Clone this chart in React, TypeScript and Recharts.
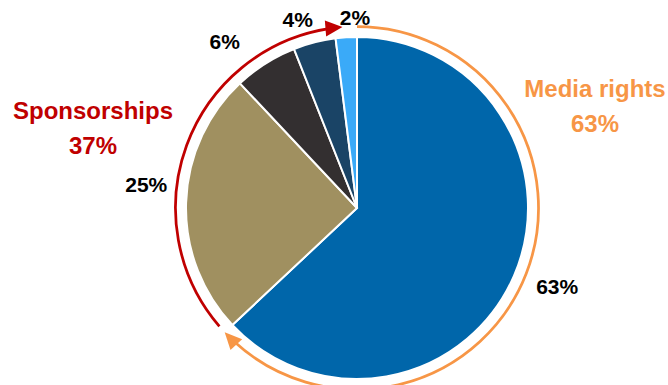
import React from 'react';
import { PieChart, Pie, Cell } from 'recharts';

const categories = ['Media rights', 'Sponsorship A', 'Sponsorship B', 'Sponsorship C', 'Sponsorship D'];
const shares = [63, 25, 6, 4, 2];
const sliceColors = ['#0066AA', '#A09060', '#332F30', '#1A4466', '#3AAAF8'];

const groupNames = ['Media rights', 'Sponsorships'];
const groupShares = [63, 37];
const groupColors = ['#F79646', '#C00000'];

const sliceData = categories.map((name, i) => ({ name, value: shares[i] }));
const groupData = groupNames.map((name, i) => ({ name, value: groupShares[i] }));

// label tweaks (distance beyond the rim, angle nudge in degrees)
const labelDist = [44, 41, 42, 27, 20];
const labelNudge = [2, -4.5, 6, 3, -3];
// trimming of the outer arcs (degrees at start / end)
const arcTrim = [[0, 0], [2.5, 4.6]];

const RAD = Math.PI / 180;
const CX = 357;
const CY = 208;
const R = 171;
const ARC_R = 181.5;

const SliceLabel = (props: any) => {
  const { cx, cy, midAngle, outerRadius, index } = props;
  const a = (midAngle + labelNudge[index]) * RAD;
  const r = outerRadius + labelDist[index];
  const x = cx + r * Math.cos(-a);
  const y = cy + r * Math.sin(-a);
  return (
    <text x={x} y={y} textAnchor="middle" dominantBaseline="central"
      fontFamily="Liberation Sans, Arial, sans-serif" fontWeight="bold" fontSize={21} fill="#000">
      {`${shares[index]}%`}
    </text>
  );
};

const GroupArc = (props: any) => {
  const { cx, cy, startAngle, endAngle, index } = props;
  const color = groupColors[index];
  const s = startAngle - arcTrim[index][0];
  const e = endAngle + arcTrim[index][1];
  const pt = (deg: number, r: number) => [cx + r * Math.cos(-deg * RAD), cy + r * Math.sin(-deg * RAD)];
  const headLen = 17;
  const headHalf = 8;
  const lineEnd = e + (headLen / ARC_R) / RAD * 0.8;
  const [x0, y0] = pt(s, ARC_R);
  const [x1, y1] = pt(lineEnd, ARC_R);
  const large = Math.abs(s - lineEnd) > 180 ? 1 : 0;
  const [tx, ty] = pt(e, ARC_R);
  // clockwise tangent direction at end
  const dx = Math.sin(e * RAD);
  const dy = Math.cos(e * RAD);
  const bx = tx - dx * headLen;
  const by = ty - dy * headLen;
  const px = -dy;
  const py = dx;
  return (
    <g>
      <path d={`M${x0},${y0} A${ARC_R},${ARC_R} 0 ${large} 1 ${x1},${y1}`} fill="none" stroke={color} strokeWidth={2.75} />
      <polygon points={`${tx},${ty} ${bx + px * headHalf},${by + py * headHalf} ${bx - px * headHalf},${by - py * headHalf}`} fill={color} />
    </g>
  );
};

const titleStyle = { fontFamily: 'Liberation Sans, Arial, sans-serif', fontWeight: 'bold' as const, fontSize: 24 };

export default function App() {
  return (
    <div style={{ position: 'absolute', left: 0, top: 0, width: 668, height: 385, background: '#fff' }}>
      <PieChart width={668} height={385} margin={{ top: 0, right: 0, bottom: 0, left: 0 }}>
        <Pie
          data={groupData}
          dataKey="value"
          cx={CX}
          cy={CY}
          innerRadius={ARC_R}
          outerRadius={ARC_R}
          startAngle={90}
          endAngle={-270}
          stroke="none"
          fill="none"
          label={GroupArc}
          labelLine={false}
          isAnimationActive={false}
        />
        <Pie
          data={sliceData}
          dataKey="value"
          cx={CX}
          cy={CY}
          outerRadius={R}
          startAngle={90}
          endAngle={-270}
          stroke="#fff"
          strokeWidth={2}
          label={SliceLabel}
          labelLine={false}
          isAnimationActive={false}
        >
          {sliceData.map((d, i) => (
            <Cell key={d.name} fill={sliceColors[i]} />
          ))}
        </Pie>
        <text x={93} y={110} textAnchor="middle" dominantBaseline="central" fill={groupColors[1]} {...titleStyle}>{groupNames[1]}</text>
        <text x={93} y={145} textAnchor="middle" dominantBaseline="central" fill={groupColors[1]} {...titleStyle}>{`${groupShares[1]}%`}</text>
        <text x={595} y={88} textAnchor="middle" dominantBaseline="central" fill={groupColors[0]} {...titleStyle}>{groupNames[0]}</text>
        <text x={595} y={123} textAnchor="middle" dominantBaseline="central" fill={groupColors[0]} {...titleStyle}>{`${groupShares[0]}%`}</text>
      </PieChart>
    </div>
  );
}
